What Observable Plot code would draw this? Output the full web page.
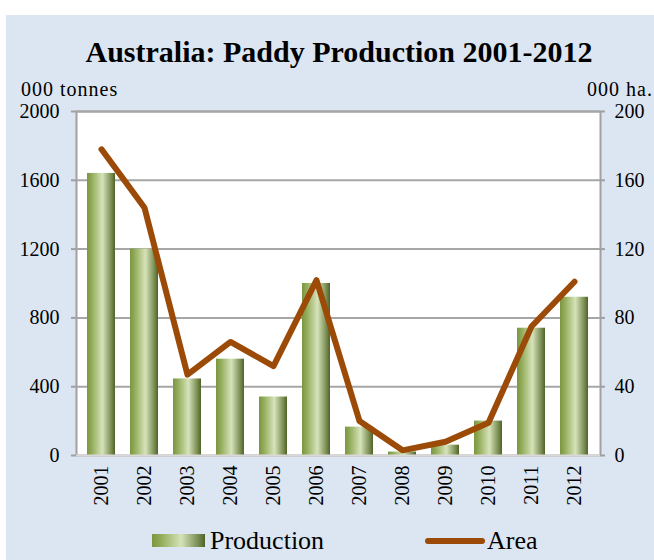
<!DOCTYPE html>
<html>
<head>
<meta charset="utf-8">
<script src="https://cdn.jsdelivr.net/npm/d3@7"></script>
<script src="https://cdn.jsdelivr.net/npm/@observablehq/plot@0.6"></script>
<style>
  html, body { margin: 0; padding: 0; background: #ffffff; width: 654px; height: 560px; overflow: hidden; }
  #bg { position: absolute; left: 6px; top: 15px; width: 648px; height: 545px; background: #dce6f2; }
  .t { position: absolute; font-family: "Liberation Serif", "Times New Roman", serif; color: #000; white-space: nowrap; }
  #title { left: 39px; width: 600px; top: 37px; text-align: center; font-size: 30px; line-height: 30px; font-weight: bold; }
  #ylab { left: 21px; top: 79px; font-size: 20px; line-height: 20px; letter-spacing: 1px; }
  #y2lab { right: 1px; top: 79px; font-size: 20px; line-height: 20px; letter-spacing: 1px; }
  #chart { position: absolute; left: 0; top: 95px; }
  #leg1sw { position: absolute; left: 152px; top: 534px; width: 53px; height: 13px;
    background: linear-gradient(to right, #7b9643 0%, #8fa955 15%, #d6e3ba 55%, #7f9258 85%, #4f6228 100%); }
  #leg1 { left: 210px; top: 528px; font-size: 26px; line-height: 26px; }
  #leg2sw { position: absolute; left: 425px; top: 535px; }
  #leg2 { left: 487px; top: 528px; font-size: 26px; line-height: 26px; }
</style>
</head>
<body>
<div id="bg"></div>
<div class="t" id="title">Australia: Paddy Production 2001-2012</div>
<div class="t" id="ylab">000 tonnes</div>
<div class="t" id="y2lab">000 ha.</div>
<div id="chart"></div>
<div id="leg1sw"></div>
<div class="t" id="leg1">Production</div>
<svg id="leg2sw" width="60" height="12"><line x1="3" y1="6" x2="57" y2="6" stroke="#9b4a07" stroke-width="6" stroke-linecap="round"/></svg>
<div class="t" id="leg2">Area</div>
<script>
const years = ["2001","2002","2003","2004","2005","2006","2007","2008","2009","2010","2011","2012"];
const production = [1640, 1200, 445, 560, 340, 1000, 165, 20, 60, 200, 740, 920];
const area = [178, 144, 47, 66, 52, 102, 20, 3, 8, 19, 75, 101];
const leftTicks = [0, 400, 800, 1200, 1600, 2000];
const rightTicks = [0, 40, 80, 120, 160, 200];

const data = years.map((y, i) => ({year: y, production: production[i], area: area[i]}));
const ratio = 10; // right axis 200 ↔ left axis 2000

const svg = Plot.plot({
  width: 654,
  height: 420,
  marginTop: 16,
  marginBottom: 60,
  marginLeft: 76,
  marginRight: 54,
  style: {fontFamily: "'Liberation Serif', 'Times New Roman', serif", background: "transparent", color: "#000", overflow: "visible"},
  x: {domain: years, paddingInner: 0.34, paddingOuter: 0.17},
  y: {domain: [0, 2000]},
  marks: [
    Plot.frame({fill: "white", stroke: "#a0a0a0", strokeWidth: 2}),
    Plot.ruleY(leftTicks.filter(d => d > 0), {stroke: "#a6a6a6", strokeWidth: 2}),
    Plot.barY(data, {x: "year", y: "production", fill: "url(#barGrad)"}),
    Plot.ruleY([0], {stroke: "#d9d9d9", strokeWidth: 2}),
    Plot.line(data, {x: "year", y: d => d.area * ratio, stroke: "#9b4a07", strokeWidth: 6, strokeLinecap: "round", strokeLinejoin: "round"}),
    Plot.axisY({ticks: leftTicks, tickFormat: d => String(d), tickSize: 5, tickPadding: 12, fontSize: 20, stroke: "#a0a0a0", strokeWidth: 2, label: null}),
    Plot.axisY({anchor: "right", ticks: rightTicks.map(d => d * ratio), tickFormat: d => String(d / ratio), tickSize: 4, tickPadding: 10, fontSize: 20, stroke: "#a0a0a0", strokeWidth: 2, label: null}),
    Plot.axisX({tickRotate: -90, tickSize: 0, tickPadding: 10, fontSize: 20, label: null})
  ]
});
svg.insertAdjacentHTML("afterbegin",
  '<defs><linearGradient id="barGrad" x1="0" y1="0" x2="1" y2="0">' +
  '<stop offset="0" stop-color="#7b9643"/><stop offset="0.15" stop-color="#8fa955"/>' +
  '<stop offset="0.55" stop-color="#d6e3ba"/><stop offset="0.85" stop-color="#7f9258"/>' +
  '<stop offset="1" stop-color="#4f6228"/></linearGradient></defs>');
document.getElementById("chart").appendChild(svg);
</script>
</body>
</html>
